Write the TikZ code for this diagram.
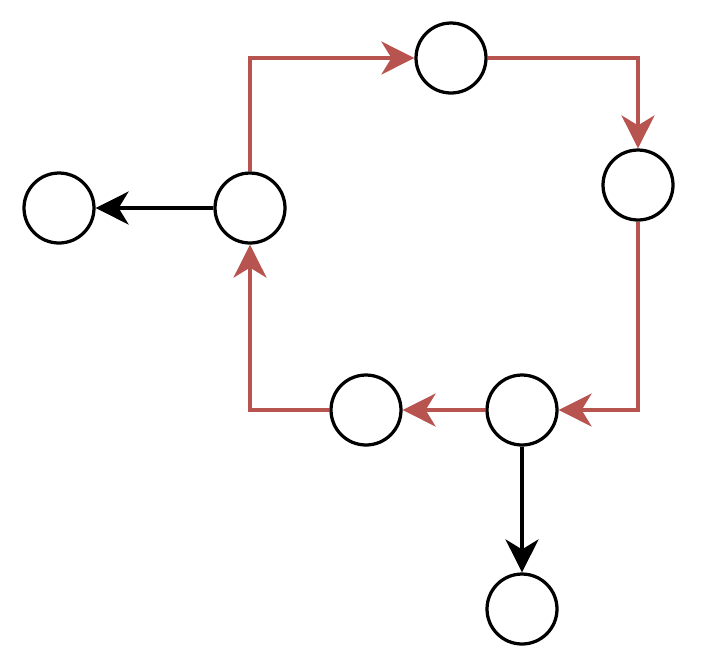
\documentclass[tikz,border=0pt]{standalone}
\usepackage{xcolor}
\usepackage{tikz}
\usetikzlibrary{arrows.meta}

\definecolor{loopred}{HTML}{B85450}

\begin{document}
\begin{tikzpicture}[x=0.02cm, y=-0.02cm,
    vertex/.style={draw, circle, line width=0.065cm, minimum size=1.4cm, inner sep=0pt},
    edge/.style={line width=0.065cm, -{Stealth[length=0.66cm, width=0.66cm, inset=0.2cm]}},
    cyc/.style={edge, loopred}]

  \useasboundingbox (0,0) rectangle (706,657);

  % Vertices
  \node[vertex] (out) at (59, 208) {};
  \node[vertex] (hub) at (250, 208) {};
  \node[vertex] (top) at (451, 58) {};
  \node[vertex] (rgt) at (638, 185) {};
  \node[vertex] (mid) at (522, 410) {};
  \node[vertex] (low) at (366, 410) {};
  \node[vertex] (bot) at (522, 609) {};

  % Cycle
  \draw[cyc] (hub.north) |- (top.west);
  \draw[cyc] (top.east) -| (rgt.north);
  \draw[cyc] (rgt.south) |- (mid.east);
  \draw[cyc] (mid.west) -- (low.east);
  \draw[cyc] (low.west) -| (hub.south);

  % Exits
  \draw[edge] (hub.west) -- (out.east);
  \draw[edge] (mid.south) -- (bot.north);

\end{tikzpicture}
\end{document}
